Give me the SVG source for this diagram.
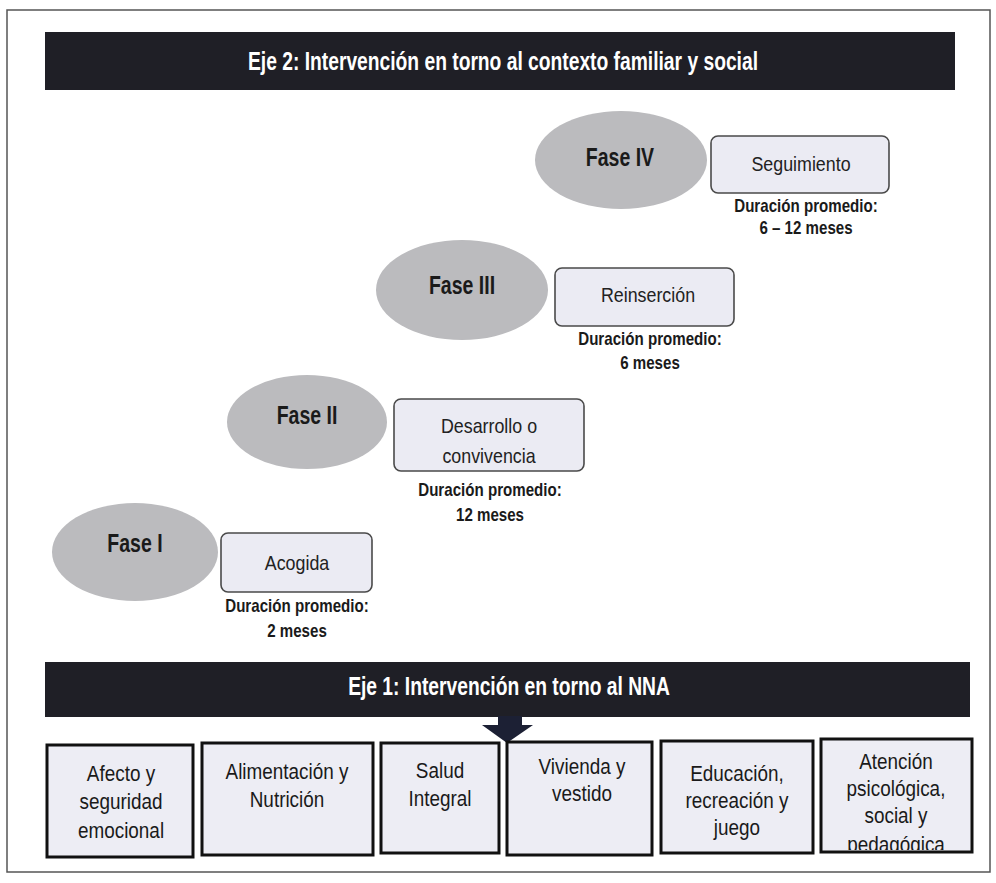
<svg xmlns="http://www.w3.org/2000/svg" width="996" height="883" viewBox="0 0 996 883">
<style>
text{font-family:"Liberation Sans",Arial,sans-serif;text-anchor:middle}
.bar{fill:#1f1f26}
.bt{fill:#fff;font-weight:bold;font-size:25px}
.ell{fill:#bbbbbe}
.fase{font-weight:bold;font-size:25px;fill:#1a1a1a}
.box{fill:#ebebf3;stroke:#4a4a4a;stroke-width:1.6}
.bl{font-size:21px;fill:#222}
.dur{font-weight:bold;font-size:18px;fill:#1a1a1a}
.sq{fill:#ededf4;stroke:#111;stroke-width:3}
.sl{font-size:22px;fill:#1a1a1a}
</style>
<defs>
<clipPath id="c6"><rect x="821" y="739" width="151" height="111"/></clipPath>
</defs>
<rect width="996" height="883" fill="#fff"/>
<rect x="7" y="10" width="983" height="862" fill="none" stroke="#555" stroke-width="1.5"/>

<g id="eje2">
<rect class="bar" x="45" y="32" width="910" height="58"/>
<text class="bt" transform="translate(503 70) scale(0.77 1)">Eje 2: Intervención en torno al contexto familiar y social</text>
</g>

<g id="fase4">
<ellipse class="ell" cx="621" cy="160" rx="86" ry="49"/>
<text class="fase" transform="translate(620 166) scale(0.78 1)">Fase IV</text>
<rect class="box" x="711" y="136" width="178" height="57" rx="7"/>
<text class="bl" transform="translate(801 171) scale(0.85 1)">Seguimiento</text>
<text class="dur" transform="translate(806 212) scale(0.84 1)">Duración promedio:</text>
<text class="dur" transform="translate(806 234) scale(0.84 1)">6 – 12 meses</text>
</g>

<g id="fase3">
<ellipse class="ell" cx="462" cy="290" rx="86" ry="50"/>
<text class="fase" transform="translate(462 294) scale(0.78 1)">Fase III</text>
<rect class="box" x="555" y="268" width="179" height="58" rx="7"/>
<text class="bl" transform="translate(648 302) scale(0.85 1)">Reinserción</text>
<text class="dur" transform="translate(650 345) scale(0.84 1)">Duración promedio:</text>
<text class="dur" transform="translate(650 369) scale(0.84 1)">6 meses</text>
</g>

<g id="fase2">
<ellipse class="ell" cx="307" cy="422" rx="80" ry="47"/>
<text class="fase" transform="translate(307 424) scale(0.78 1)">Fase II</text>
<rect class="box" x="394" y="399" width="190" height="72" rx="7"/>
<text class="bl" transform="translate(489 433) scale(0.85 1)">Desarrollo o</text>
<text class="bl" transform="translate(489 463) scale(0.85 1)">convivencia</text>
<text class="dur" transform="translate(490 496) scale(0.84 1)">Duración promedio:</text>
<text class="dur" transform="translate(490 521) scale(0.84 1)">12 meses</text>
</g>

<g id="fase1">
<ellipse class="ell" cx="135" cy="552" rx="83" ry="49"/>
<text class="fase" transform="translate(135 552) scale(0.78 1)">Fase I</text>
<rect class="box" x="221" y="533" width="151" height="59" rx="7"/>
<text class="bl" transform="translate(297 570) scale(0.85 1)">Acogida</text>
<text class="dur" transform="translate(297 612) scale(0.84 1)">Duración promedio:</text>
<text class="dur" transform="translate(297 637) scale(0.84 1)">2 meses</text>
</g>

<g id="eje1">
<rect class="bar" x="45" y="662" width="925" height="55"/>
<text class="bt" transform="translate(509 695) scale(0.77 1)">Eje 1: Intervención en torno al NNA</text>
</g>

<g id="connectors">
<polygon points="498,716 522,716 522,725 533,725 507,743 482,725 498,725" fill="#1c2034"/>
</g>

<g id="b1">
<rect class="sq" x="47" y="745" width="146" height="112"/>
<text class="sl" transform="translate(121 781) scale(0.86 1)">Afecto y</text>
<text class="sl" transform="translate(121 809) scale(0.86 1)">seguridad</text>
<text class="sl" transform="translate(121 838) scale(0.86 1)">emocional</text>
</g>
<g id="b2">
<rect class="sq" x="202" y="743" width="171" height="112"/>
<text class="sl" transform="translate(287 779) scale(0.86 1)">Alimentación y</text>
<text class="sl" transform="translate(287 807) scale(0.86 1)">Nutrición</text>
</g>
<g id="b3">
<rect class="sq" x="381" y="743" width="118" height="110"/>
<text class="sl" transform="translate(440 778) scale(0.86 1)">Salud</text>
<text class="sl" transform="translate(440 806) scale(0.86 1)">Integral</text>
</g>
<g id="b4">
<rect class="sq" x="507" y="742" width="145" height="113"/>
<text class="sl" transform="translate(582 774) scale(0.86 1)">Vivienda y</text>
<text class="sl" transform="translate(582 801) scale(0.86 1)">vestido</text>
</g>
<g id="b5">
<rect class="sq" x="661" y="741" width="152" height="112"/>
<text class="sl" transform="translate(737 781) scale(0.86 1)">Educación,</text>
<text class="sl" transform="translate(737 808) scale(0.86 1)">recreación y</text>
<text class="sl" transform="translate(737 835) scale(0.86 1)">juego</text>
</g>
<g id="b6">
<rect class="sq" x="821" y="739" width="151" height="113"/>
<g clip-path="url(#c6)">
<text class="sl" transform="translate(896 769) scale(0.86 1)">Atención</text>
<text class="sl" transform="translate(896 796) scale(0.86 1)">psicológica,</text>
<text class="sl" transform="translate(896 823) scale(0.86 1)">social y</text>
<text class="sl" transform="translate(896 852) scale(0.86 1)">pedagógica</text>
</g>
</g>
</svg>
